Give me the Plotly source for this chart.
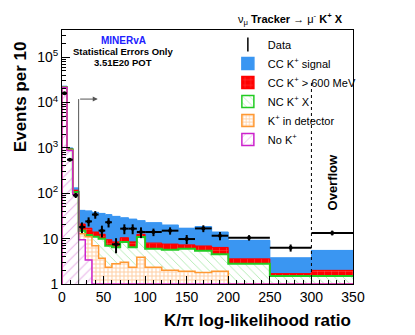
import numpy as np
import plotly.graph_objects as go

# K/pi log-likelihood ratio bins (last bin is the overflow)
edges = [0, 6, 13, 20, 28, 36, 44, 52, 60, 70, 80, 90, 100, 120, 140, 160, 180, 200, 250, 300, 350]

# stacked MC components, events per 10
no_kaon = [21500, 880, 95, 9.5, 3.4, 1, 1, 1, 1, 1, 1, 1, 1, 1, 1, 1, 1, 1, 1, 1]
k_in_det = [100, 10, 2, 3.3, 7.6, 6, 2.7, 1.35, 1.8, 2.0, 1.35, 2.9, 1.35, 1.0, 0.9, 0.8, 0.9, 0, 0, 0]
nc_kaon = [300, 30, 10, 2.2, 1.0, 4, 6.3, 4.65, 3.7, 5.4, 4.15, 7.0, 3.65, 3.7, 4.1, 3.6, 2.6, 1.8, 0.5, 0.5]
cc_high = [300, 30, 10, 6, 5, 3, 2.5, 2.5, 2.0, 2.1, 2.0, 1.6, 2.0, 1.9, 1.3, 1.5, 1.9, 0.8, 0.2, 0.5]
cc_signal = [800, 50, 15, 21, 24, 24, 23.5, 24.5, 22.5, 18.5, 18.5, 12.5, 14.6, 12.4, 9.7, 11.6, 7.6, 5.6, 2.1, 3.5]

data = [16000, 550, 90, 18, 24, 34, 15, 23, 7.5, 16.6, 16.6, 14, 14, 15, 9.8, 16.8, 11.6, 10.5, 6.3, 13.4]

ytick_vals = [1, 10, 100, 1000, 1e4, 1e5]
ytick_text = ["1", "10", "10<sup>2</sup>", "10<sup>3</sup>", "10<sup>4</sup>", "10<sup>5</sup>"]

FONT = "Liberation Sans, Arial, Helvetica, sans-serif"

e = np.array(edges, dtype=float)
widths = np.diff(e)
centers = e[:-1] + widths / 2
# statistical error, scaled to events per 10
data_arr = np.array(data)
data_err = np.sqrt(10 * data_arr / widths)

# cumulative stack, bottom to top
comps = [no_kaon, k_in_det, nc_kaon, cc_high, cc_signal]
cum = np.cumsum(np.array(comps, dtype=float), axis=0)

styles = [
    # name, line color, pattern
    ("No K<sup>+</sup>", "#cc22cc", dict(shape="/", fgcolor="#d468d4", bgcolor="white", size=7, solidity=0.15)),
    ("K<sup>+</sup> in detector", "#ff9933", dict(shape="+", fgcolor="#ffa04a", bgcolor="white", size=4, solidity=0.45)),
    ("NC K<sup>+</sup> X", "#22cc22", dict(shape="\\", fgcolor="#5fd65f", bgcolor="white", size=6, solidity=0.15)),
    ("CC K<sup>+</sup> > 600 MeV", "#ff0000", dict(shape="+", fgcolor="#ffbbbb", bgcolor="#ff0000", size=7, solidity=0.12)),
    ("CC K<sup>+</sup> signal", "#3a96f2", dict(shape="", fgcolor="#3a96f2", bgcolor="#3a96f2")),
]
line_w = [1.5, 1.5, 2, 1, 1]

fig = go.Figure()

# legend entries (off-screen dummies so the swatches get a border)
fig.add_trace(go.Scatter(x=[-100], y=[10], mode="markers", name="Data",
                         marker=dict(symbol="line-ns", size=10, color="black",
                                     line=dict(width=1.5, color="black"))))
for i in [4, 3, 2, 1, 0]:
    name, col, pat = styles[i]
    fig.add_trace(go.Bar(x=[-100], y=[10], name=name,
                         marker=dict(color=pat["bgcolor"], pattern=pat,
                                     line=dict(color=col, width=1.5))))

# filled histograms, largest cumulative first
for i in [4, 3, 2, 1, 0]:
    name, col, pat = styles[i]
    fig.add_trace(go.Bar(x=centers, y=cum[i], width=widths, showlegend=False,
                         marker=dict(color=pat["bgcolor"], pattern=pat, line=dict(width=0)),
                         hoverinfo="skip"))

# step outlines
for i in [4, 3, 2, 1, 0]:
    name, col, pat = styles[i]
    xs = np.concatenate([[e[0]], e])
    ys = np.concatenate([[1e-3], cum[i], [cum[i][-1]]])
    fig.add_trace(go.Scatter(x=xs, y=ys, mode="lines", line_shape="hv", showlegend=False,
                             line=dict(color=col, width=line_w[i]), hoverinfo="skip"))

# data points
fig.add_trace(go.Scatter(x=centers, y=data, mode="markers", showlegend=False,
                         marker=dict(size=4, color="black"),
                         error_x=dict(type="data", array=widths / 2, thickness=2, width=0, color="black"),
                         error_y=dict(type="data", array=data_err, thickness=2, width=0, color="black")))

fig.update_layout(
    width=415, height=335,
    margin=dict(l=62, r=62, t=30, b=51),
    barmode="overlay", bargap=0,
    plot_bgcolor="white", paper_bgcolor="white",
    font=dict(family=FONT, size=14, color="black"),
    showlegend=True,
    legend=dict(x=0.57, y=1.0, xanchor="left", yanchor="top",
                bgcolor="rgba(0,0,0,0)", font=dict(size=11), traceorder="normal",
                tracegroupgap=0),
)

fig.update_xaxes(range=[0, 350], tickvals=[0, 50, 100, 150, 200, 250, 300, 350],
                 ticks="inside", ticklen=8, tickcolor="black", showline=True, linecolor="black",
                 linewidth=1, mirror=True, showgrid=False, zeroline=False,
                 minor=dict(ticks="inside", ticklen=4, dtick=10, tickcolor="black"))

minor_y = [m * 10 ** k for k in range(0, 6) for m in range(2, 10)]
fig.update_yaxes(type="log", range=[0, 5.6], tickvals=ytick_vals, ticktext=ytick_text,
                 ticks="inside", ticklen=8, tickcolor="black", showline=True, linecolor="black",
                 linewidth=1, mirror=True, showgrid=False, zeroline=False,
                 minor=dict(ticks="inside", ticklen=4, tickvals=minor_y, tickcolor="black"))

# overflow marker and cut arrow
fig.add_shape(type="line", xref="x", yref="paper", x0=300, x1=300, y0=0, y1=0.80,
              line=dict(color="black", width=1, dash="dot"))
fig.add_shape(type="line", xref="x", yref="paper", x0=20, x1=20, y0=0, y1=0.728,
              line=dict(color="#555555", width=1))
fig.add_annotation(x=43, y=0.728, xref="x", yref="paper", ax=20, axref="x", ay=0, ayref="pixel",
                   showarrow=True, arrowhead=2, arrowsize=1, arrowwidth=1, arrowcolor="#555555", text="")


def label(x, y, text, size, color="black", angle=0, xanchor="center"):
    fig.add_annotation(x=x, y=y, xref="paper", yref="paper", text=text, showarrow=False,
                       xanchor=xanchor, yanchor="middle", textangle=angle,
                       font=dict(size=size, color=color))


label(0.928, 0.40, "<b>Overflow</b>", 13, angle=-90)
label(0.21, 0.957, "<b>MINERvA</b>", 10, color="#2020ff")
label(0.21, 0.917, "<b>Statistical Errors Only</b>", 9.5)
label(0.21, 0.872, "<b>3.51E20 POT</b>", 9.5)
label(0.784, 1.045, "ν<sub>μ</sub> <b>Tracker</b> → μ<sup>-</sup> <b>K<sup>+</sup> X</b>", 11)
label(-0.144, 0.736, "<b>Events per 10</b>", 17, angle=-90)
label(1.0, -0.142, "<b>K/π log-likelihood ratio</b>", 17, xanchor="right")

fig.write_html("out.html", config={"displayModeBar": False},
               post_script="document.body.style.margin='0px';")
